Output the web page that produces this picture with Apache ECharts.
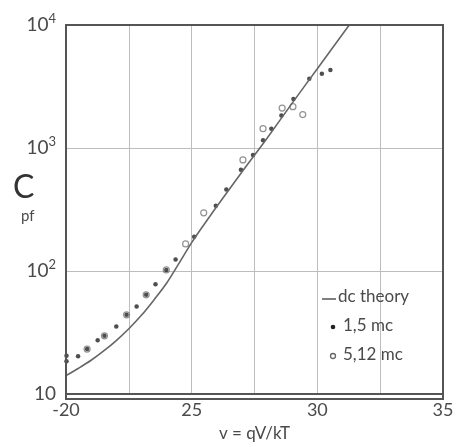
<!DOCTYPE html>
<html>
<head>
<meta charset="utf-8">
<script src="https://cdn.jsdelivr.net/npm/echarts@6/dist/echarts.min.js"></script>
<style>html,body{margin:0;padding:0;background:#fff;}#c{width:458px;height:447px;}</style>
</head>
<body>
<div id="c"></div>
<script>
// x-axis ticks (v = qV/kT), shown with "-" only on first
const xTicks = [20, 25, 30, 35];
const xTickLabels = ['-20', '25', '30', '35'];
const yTicks = [10, 100, 1000, 10000];

// dc theory curve
const theoryV = [20, 20.5, 21, 21.5, 22, 22.5, 23, 23.5, 24, 24.5, 25, 25.5, 26, 27, 28, 29, 30, 31, 31.27];
const theoryC = [14.1, 16.2, 18.8, 22.4, 27.2, 33.9, 43.6, 58.2, 79.4, 116, 170, 240, 335, 638, 1202, 2317, 4416, 8414, 10000];

// 1.5 mc (filled dots)
const mc15V = [20.02, 20.02, 20.48, 20.84, 21.26, 21.53, 22.0, 22.41, 22.81, 23.19, 23.56, 23.99, 24.36, 25.1, 25.96, 26.38, 26.96, 27.44, 27.84, 28.17, 28.57, 29.05, 29.68, 30.18, 30.52];
const mc15C = [18.5, 20.5, 20.3, 23.2, 27.4, 29.7, 35.3, 44, 51.5, 64, 78, 102, 124, 190, 339, 460, 665, 877, 1157, 1435, 1836, 2500, 3660, 4020, 4300];

// 5.12 mc (open circles)
const mc512V = [20.84, 21.53, 22.41, 23.19, 23.99, 24.76, 25.48, 27.04, 27.84, 28.6, 29.03, 29.42];
const mc512C = [23.2, 29.7, 44, 64, 102, 166, 297, 800, 1435, 2113, 2167, 1870];

const zip = (a, b) => a.map((v, i) => [v, b[i]]);
const FONT = 'Lato';
const TXT = '#4a4a4a';

const chart = echarts.init(document.getElementById('c'), null, {renderer: 'canvas'});
chart.setOption({
  animation: false,
  backgroundColor: '#fff',
  grid: {left: 66, right: 15, top: 25, bottom: 48},
  xAxis: {
    type: 'value', min: 20, max: 35, interval: 2.5,
    axisLine: {show: true, onZero: false, lineStyle: {color: '#555', width: 2}},
    axisTick: {show: false},
    splitLine: {show: true, lineStyle: {color: '#bdbdbd', width: 1}},
    axisLabel: {
      margin: 7, fontFamily: FONT, fontSize: 18, color: TXT,
      formatter: v => { const i = xTicks.indexOf(v); return i >= 0 ? xTickLabels[i] : ''; }
    },
    name: 'v = qV/kT', nameLocation: 'middle', nameGap: 31,
    nameTextStyle: {fontFamily: FONT, fontSize: 17, color: TXT}
  },
  yAxis: {
    type: 'log', logBase: 10, min: 10, max: 10000,
    axisLine: {show: true, onZero: false, lineStyle: {color: '#555', width: 2}},
    axisTick: {show: false},
    splitLine: {show: true, lineStyle: {color: '#bdbdbd', width: 1}},
    axisLabel: {
      margin: 10, fontFamily: FONT, color: TXT,
      formatter: v => {
        const e = Math.round(Math.log10(v));
        return e === 1 ? '{b|10}' : '{b|10}{s|' + e + '}';
      },
      rich: {
        b: {fontFamily: FONT, fontSize: 19, color: TXT},
        s: {fontFamily: FONT, fontSize: 13, color: TXT, verticalAlign: 'top', padding: [0, 0, 12, 0]}
      }
    }
  },
  graphic: [
    {type: 'rect', shape: {x: 66, y: 25, width: 377, height: 374}, style: {fill: 'none', stroke: '#555', lineWidth: 2}, silent: true, z: 10},
    {type: 'text', left: 13, top: 172, style: {text: 'C', font: '32px Lato', fill: '#333'}},
    {type: 'text', left: 21, top: 209, style: {text: 'pf', font: '15px Lato', fill: TXT}},
    {type: 'line', shape: {x1: 322, y1: 299, x2: 336, y2: 299}, style: {stroke: '#555', lineWidth: 1.5}, z: 20},
    {type: 'text', left: 338, top: 288, style: {text: 'dc theory', font: '17px Lato', fill: TXT}, z: 20},
    {type: 'circle', shape: {cx: 333, cy: 327, r: 2.3}, style: {fill: '#222'}, z: 20},
    {type: 'text', left: 343, top: 317, style: {text: '1,5 mc', font: '17px Lato', fill: TXT}, z: 20},
    {type: 'circle', shape: {cx: 333, cy: 356, r: 2.5}, style: {fill: 'none', stroke: '#666', lineWidth: 1.3}, z: 20},
    {type: 'text', left: 343, top: 346, style: {text: '5,12 mc', font: '17px Lato', fill: TXT}, z: 20}
  ],
  series: [
    {
      name: 'dc theory', type: 'line', smooth: 0.3, showSymbol: false,
      data: zip(theoryV, theoryC),
      lineStyle: {color: '#666', width: 1.6}
    },
    {
      name: '1,5 mc', type: 'scatter', symbol: 'circle', symbolSize: 4.5,
      data: zip(mc15V, mc15C),
      itemStyle: {color: '#222'}
    },
    {
      name: '5,12 mc', type: 'scatter', symbol: 'circle', symbolSize: 6,
      data: zip(mc512V, mc512C),
      itemStyle: {color: 'rgba(255,255,255,0)', borderColor: '#777', borderWidth: 1.2}
    }
  ]
});
</script>
</body>
</html>
